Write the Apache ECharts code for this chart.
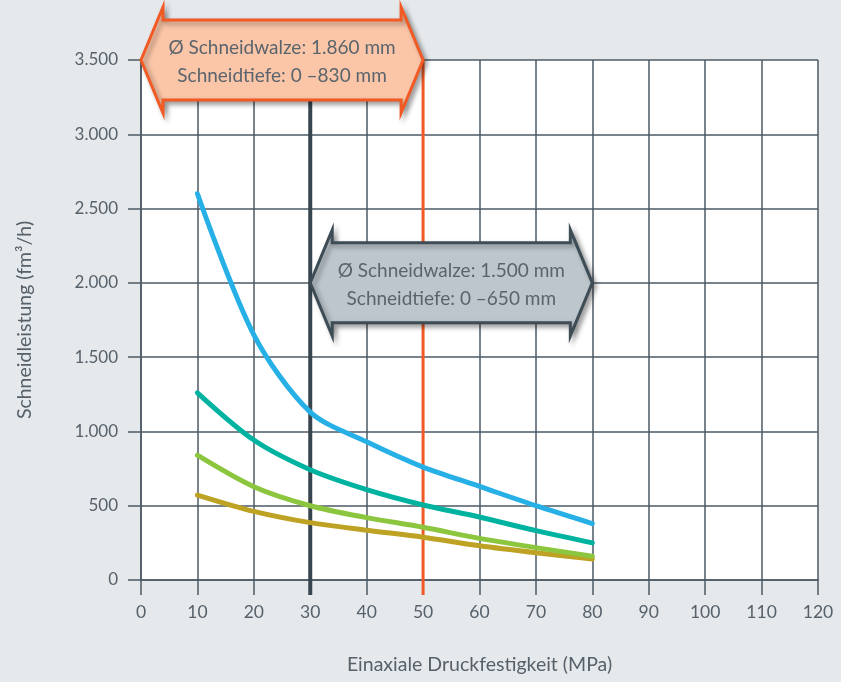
<!DOCTYPE html>
<html>
<head>
<meta charset="utf-8">
<script src="https://cdn.jsdelivr.net/npm/echarts@6/dist/echarts.min.js"></script>
<style>
html,body{margin:0;padding:0;background:#e6e9ec;}
#c{width:841px;height:682px;}
</style>
</head>
<body>
<div id="c"></div>
<script>
const xValues = [10, 20, 30, 40, 50, 60, 70, 80];
const seriesBlue  = [2600, 1650, 1130, 930, 760, 630, 500, 380];
const seriesTeal  = [1260, 942, 742, 608, 505, 424, 332, 250];
const seriesGreen = [840, 628, 500, 420, 355, 280, 218, 160];
const seriesGold  = [572, 462, 386, 335, 288, 230, 183, 141];
const xName = 'Einaxiale Druckfestigkeit (MPa)';
const yName = 'Schneidleistung (fm³/h)';
const refLines = [30, 50];
const arrows = [
  [0, 50, 3500],
  [30, 80, 2000]
];
const arrowTexts = [
  'Ø Schneidwalze: 1.860 mm\nSchneidtiefe: 0 –830 mm',
  'Ø Schneidwalze: 1.500 mm\nSchneidtiefe: 0 –650 mm'
];

const FONT = 'Lato, "Open Sans", sans-serif';
const txt = '#56616a';
const gridCol = '#4d5a64';

function pairs(vals){ return xValues.map((x,i)=>[x, vals[i]]); }
function fmt(v){ return String(v).replace(/\B(?=(\d{3})+(?!\d))/g, '.'); }

const lineSeries = (vals, color) => ({
  type: 'line', data: pairs(vals), smooth: 0.3, symbol: 'none', z: 3,
  lineStyle: { color: color, width: 5, cap: 'round' }
});

const chart = echarts.init(document.getElementById('c'));
chart.setOption({
  backgroundColor: '#e6e9ec',
  animation: false,
  grid: { left: 141, right: 23, top: 60, bottom: 102, show: true, backgroundColor: '#ffffff', borderWidth: 0, outerBoundsMode: 'none', containLabel: false },
  xAxis: {
    type: 'value', min: 0, max: 120, interval: 10,
    name: xName, nameLocation: 'middle', nameGap: 75,
    nameTextStyle: { color: txt, fontSize: 19.5, fontFamily: FONT },
    axisLine: { lineStyle: { color: gridCol, width: 1.5 } },
    axisTick: { show: true, length: 15, lineStyle: { color: gridCol, width: 1.5 } },
    axisLabel: { color: txt, fontSize: 17.5, fontFamily: FONT, margin: 23 },
    splitLine: { show: true, lineStyle: { color: gridCol, width: 1.5 } }
  },
  yAxis: {
    type: 'value', min: 0, max: 3500, interval: 500,
    name: yName, nameLocation: 'middle', nameGap: 106, nameRotate: 90,
    nameTextStyle: { color: txt, fontSize: 19.5, fontFamily: FONT },
    axisLine: { show: true, lineStyle: { color: gridCol, width: 1.5 } },
    axisTick: { show: true, length: 13, lineStyle: { color: gridCol, width: 1.5 } },
    axisLabel: { color: txt, fontSize: 17, fontFamily: FONT, margin: 23, formatter: fmt },
    splitLine: { show: true, lineStyle: { color: gridCol, width: 1.5 } }
  },
  series: [
    {
      type: 'custom', z: 2, clip: false,
      data: refLines.map((x,i)=>[x, i]),
      renderItem: function(params, api){
        const x = api.value(0), i = api.value(1);
        const top = api.coord([x, 3500]);
        const bot = api.coord([x, 0]);
        return {
          type: 'line',
          shape: { x1: top[0], y1: top[1], x2: bot[0], y2: bot[1] + 15 },
          style: { stroke: i === 0 ? '#37454f' : '#f15a24', lineWidth: i === 0 ? 4 : 3 }
        };
      }
    },
    lineSeries(seriesGold, '#bda224'),
    lineSeries(seriesGreen, '#8cc63f'),
    lineSeries(seriesTeal, '#00b3a1'),
    lineSeries(seriesBlue, '#27b0e6'),
    {
      type: 'custom', z: 5, clip: false,
      data: arrows.map((a,i)=>[a[0], a[1], a[2], i]),
      renderItem: function(params, api){
        const i = api.value(3);
        const p1 = api.coord([api.value(0), api.value(2)]);
        const p2 = api.coord([api.value(1), api.value(2)]);
        const x1 = p1[0], x2 = p2[0], y = p1[1];
        const hl = 22, hh = 53, bh = 40;
        const pts = [
          [x1, y], [x1+hl, y-hh], [x1+hl, y-bh], [x2-hl, y-bh], [x2-hl, y-hh],
          [x2, y], [x2-hl, y+hh], [x2-hl, y+bh], [x1+hl, y+bh], [x1+hl, y+hh]
        ];
        const orange = i === 0;
        return {
          type: 'group',
          children: [
            {
              type: 'polygon',
              shape: { points: pts },
              style: {
                fill: orange ? '#fbc6a8' : '#bcc6cc',
                stroke: orange ? '#f15a24' : '#3e4c56',
                lineWidth: 3, lineJoin: 'miter',
                shadowBlur: 5, shadowOffsetX: 3, shadowOffsetY: 3,
                shadowColor: 'rgba(0,0,0,0.35)'
              }
            },
            {
              type: 'text',
              x: (x1 + x2) / 2, y: y + 2,
              style: {
                text: arrowTexts[i], fill: '#5a646c', font: '19px ' + FONT,
                align: 'center', verticalAlign: 'middle', lineHeight: 28
              }
            }
          ]
        };
      }
    }
  ]
});
</script>
</body>
</html>
